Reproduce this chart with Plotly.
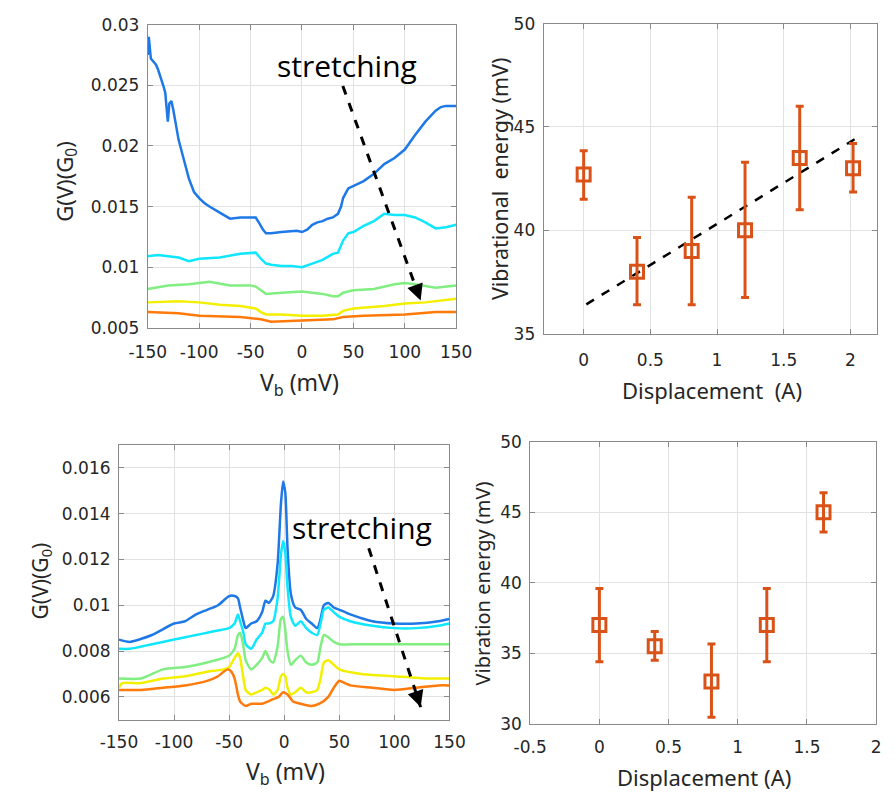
import plotly.graph_objects as go

W, H = 895, 799

# ---------------- data ----------------
# Top-left: G(V) curves, various stretching stages
tl_blue_x = [-150,-149,-147,-145,-142,-140,-137,-135,-133,-131.5,-130.5,-129,-127,-125,-120,-115,-110,-105,-100,-95,-90,-80,-70,-60,-50,-45,-42,-38,-35,-30,-20,-10,-5,0,5,10,15,20,25,30,35,38,40,45,50,60,70,80,90,100,110,120,130,135,140,145,150]
tl_blue_y = [0.0275,0.029,0.0272,0.027,0.0267,0.0263,0.0256,0.025,0.0244,0.0225,0.022,0.0235,0.0237,0.0229,0.0205,0.0189,0.0173,0.0162,0.0157,0.0153,0.015,0.0145,0.014,0.0141,0.0141,0.0141,0.0137,0.0131,0.0128,0.0128,0.0129,0.013,0.013,0.0129,0.0131,0.0135,0.0137,0.0138,0.014,0.0141,0.0144,0.015,0.0157,0.0165,0.0167,0.0171,0.0177,0.0185,0.019,0.0197,0.0209,0.022,0.0229,0.0232,0.0233,0.0233,0.0233]
tl_cyan_x = [-150,-140,-120,-110,-100,-80,-60,-50,-45,-40,-35,-30,-20,-10,0,10,20,30,35,40,45,50,60,70,80,90,100,110,120,130,140,150]
tl_cyan_y = [0.0109,0.011,0.0108,0.0105,0.0107,0.0108,0.0111,0.0112,0.0112,0.0107,0.0103,0.0102,0.0101,0.0101,0.01,0.0103,0.0106,0.0111,0.0112,0.0122,0.0128,0.0129,0.0134,0.0138,0.0144,0.0143,0.0143,0.0141,0.0137,0.0132,0.0133,0.0135]
tl_green_x = [-150,-130,-110,-90,-70,-50,-45,-40,-35,-20,0,20,30,35,40,50,70,90,100,110,130,150]
tl_green_y = [0.0082,0.0085,0.0086,0.0088,0.0085,0.0085,0.0084,0.0081,0.0078,0.0079,0.008,0.0078,0.0076,0.0076,0.0079,0.0081,0.0082,0.0086,0.0087,0.0086,0.0083,0.0085]
tl_yellow_x = [-150,-120,-100,-80,-60,-45,-40,-35,-20,0,20,35,40,50,80,100,120,150]
tl_yellow_y = [0.0071,0.0072,0.0071,0.0069,0.0068,0.0066,0.0063,0.0061,0.0061,0.006,0.006,0.0061,0.0064,0.0066,0.0068,0.007,0.0071,0.0074]
tl_orange_x = [-150,-120,-100,-60,-40,-30,0,30,40,60,100,130,150]
tl_orange_y = [0.0063,0.0062,0.006,0.0059,0.0057,0.0055,0.0056,0.0057,0.0059,0.006,0.0061,0.0063,0.0063]

# Bottom-left: G(V) curves
bl_bc_x = [-150,-140,-120,-100,-90,-80,-70,-60,-50,-45,-42,-40,-37,-35,-30,-25,-20,-17,-14,-10,-6,-3,-1,1,3,6,10,15,20,25,30,33,36,40,45,50,60,80,100,120,140,150]
bl_blue_y = [0.0085,0.0084,0.0087,0.0092,0.0093,0.0096,0.0098,0.01,0.0104,0.0104,0.0103,0.0099,0.0093,0.009,0.0092,0.0093,0.0097,0.0102,0.0101,0.0104,0.0118,0.0144,0.0154,0.0149,0.0125,0.0105,0.0099,0.0098,0.0094,0.0092,0.009,0.0094,0.01,0.0101,0.0099,0.0098,0.0096,0.0093,0.0092,0.0092,0.0093,0.0094]
bl_cyan_y = [0.0081,0.0081,0.0083,0.0085,0.0086,0.0087,0.0088,0.0089,0.009,0.0092,0.0096,0.0093,0.0088,0.0083,0.0081,0.0085,0.0088,0.0092,0.0092,0.0093,0.0103,0.0122,0.0128,0.0123,0.0108,0.0095,0.0091,0.0093,0.009,0.0088,0.0087,0.0092,0.0098,0.0099,0.0097,0.0095,0.0093,0.0091,0.009,0.009,0.0091,0.0092]
bl_green_x = [-150,-130,-110,-90,-70,-55,-50,-45,-42,-40,-37,-35,-30,-25,-20,-17,-13,-10,-6,-3,-1,1,3,6,10,15,20,25,30,33,36,40,45,50,70,100,130,150]
bl_green_y = [0.0068,0.0068,0.0072,0.0073,0.0075,0.0077,0.0078,0.0081,0.0087,0.0088,0.0082,0.0076,0.0072,0.0074,0.0077,0.008,0.0076,0.0075,0.0082,0.0094,0.0095,0.0089,0.008,0.0074,0.0076,0.0078,0.0075,0.0074,0.0075,0.0082,0.0087,0.0086,0.0084,0.0083,0.0083,0.0083,0.0083,0.0083]
bl_yellow_x = [-150,-147,-130,-110,-90,-70,-55,-50,-45,-42,-40,-37,-35,-30,-25,-20,-17,-13,-10,-6,-3,-1,1,3,6,10,15,20,25,30,33,36,40,45,50,70,100,130,150]
bl_yellow_y = [0.0064,0.0066,0.0066,0.0068,0.0069,0.0071,0.0072,0.0073,0.0077,0.0079,0.0077,0.0068,0.0063,0.0061,0.0062,0.0063,0.0064,0.0063,0.0061,0.0063,0.0069,0.007,0.0069,0.0064,0.0061,0.0062,0.0064,0.0062,0.0062,0.0063,0.0068,0.0075,0.0076,0.0074,0.0072,0.007,0.0069,0.0068,0.0068]
bl_orange_x = [-150,-130,-110,-90,-70,-60,-55,-51,-48,-45,-42,-40,-35,-30,-20,-10,-5,-1,3,8,15,25,32,40,45,50,55,60,80,100,120,140,150]
bl_orange_y = [0.0063,0.0063,0.0064,0.0065,0.0067,0.0069,0.0071,0.0072,0.0071,0.0068,0.0061,0.0058,0.0056,0.0057,0.0057,0.0059,0.006,0.0062,0.0061,0.0058,0.0057,0.0056,0.0057,0.006,0.0064,0.0067,0.0066,0.0065,0.0064,0.0063,0.0064,0.0065,0.0065]

# Top-right: vibrational energy vs displacement
tr_x = [0, 0.4, 0.81, 1.21, 1.62, 2.02]
tr_y = [42.7, 38.0, 39.0, 40.0, 43.5, 43.0]
tr_err_plus = [1.15, 1.65, 2.6, 3.3, 2.5, 1.2]
tr_err_minus = [1.2, 1.6, 2.6, 3.25, 2.5, 1.15]
fit_x = [0.02, 2.04]
fit_y = [36.42, 44.44]

# Bottom-right: vibration energy vs displacement
br_x = [0, 0.4, 0.81, 1.21, 1.62]
br_y = [37.0, 35.5, 33.0, 37.0, 45.0]
br_err_plus = [2.6, 1.05, 2.65, 2.6, 1.4]
br_err_minus = [2.6, 1.0, 2.55, 2.6, 1.4]

vb_ticks = [-150, -100, -50, 0, 50, 100, 150]
vb_ticktext = ["-150", "-100", "-50", "0", "50", "100", "150"]
br_xticks = [-0.5, 0, 0.5, 1, 1.5, 2]
br_xticktext = ["-0.5", "0", "0.5", "1", "1.5", "2"]

colors = ["#1e78e6", "#0fe6ff", "#80ee80", "#f2f000", "#ff7a0a"]
MC = "#D95319"

fig = go.Figure()

tl_series = [(tl_blue_x, tl_blue_y), (tl_cyan_x, tl_cyan_y), (tl_green_x, tl_green_y),
             (tl_yellow_x, tl_yellow_y), (tl_orange_x, tl_orange_y)]
for (xs, ys), c in zip(tl_series, colors):
    fig.add_trace(go.Scatter(x=xs, y=ys, mode="lines", line=dict(color=c, width=2.5),
                             xaxis="x", yaxis="y", showlegend=False))

bl_series = [(bl_bc_x, bl_blue_y), (bl_bc_x, bl_cyan_y), (bl_green_x, bl_green_y),
             (bl_yellow_x, bl_yellow_y), (bl_orange_x, bl_orange_y)]
for (xs, ys), c in zip(bl_series, colors):
    fig.add_trace(go.Scatter(x=xs, y=ys, mode="lines",
                             line=dict(color=c, width=2.5, shape="spline", smoothing=0.6),
                             xaxis="x3", yaxis="y3", showlegend=False))

fig.add_trace(go.Scatter(x=fit_x, y=fit_y, mode="lines",
                         line=dict(color="black", width=2.5, dash="dash"),
                         xaxis="x2", yaxis="y2", showlegend=False))
fig.add_trace(go.Scatter(x=tr_x, y=tr_y, mode="markers",
                         marker=dict(symbol="square-open", size=13, color=MC, line=dict(width=3, color=MC)),
                         error_y=dict(type="data", symmetric=False, array=tr_err_plus, arrayminus=tr_err_minus,
                                      color=MC, thickness=3, width=4),
                         xaxis="x2", yaxis="y2", showlegend=False))
fig.add_trace(go.Scatter(x=br_x, y=br_y, mode="markers",
                         marker=dict(symbol="square-open", size=13, color=MC, line=dict(width=3, color=MC)),
                         error_y=dict(type="data", symmetric=False, array=br_err_plus, arrayminus=br_err_minus,
                                      color=MC, thickness=3, width=4),
                         xaxis="x4", yaxis="y4", showlegend=False))

def px(x):
    return x / W

def py(y):
    return 1 - y / H

tickfont = dict(family="DejaVu Sans", size=17, color="#262626")
common = dict(showline=True, mirror="ticks", linecolor="#8a8a8a", linewidth=1,
              ticks="inside", ticklen=5, tickcolor="#8a8a8a",
              showgrid=True, gridcolor="#e2e2e2", gridwidth=1, zeroline=False,
              tickfont=tickfont)

fig.update_layout(
    width=W, height=H, margin=dict(l=0, r=0, t=0, b=0),
    paper_bgcolor="white", plot_bgcolor="white", showlegend=False,
    xaxis=dict(domain=[px(134), px(455)], anchor="y", range=[-150, 150],
               tickvals=vb_ticks, ticktext=vb_ticktext, ticklabelstandoff=9, **common),
    yaxis=dict(domain=[py(326), py(15)], anchor="x", range=[0.005, 0.03], dtick=0.005,
               tick0=0.005, ticklabelstandoff=4, **common),
    xaxis2=dict(domain=[px(546), px(893)], anchor="y2", range=[-0.3, 2.2],
                tickvals=[0, 0.5, 1, 1.5, 2], ticklabelstandoff=11, **common),
    yaxis2=dict(domain=[py(332), py(14)], anchor="x2", range=[35, 50], dtick=5,
                ticklabelstandoff=4, **common),
    xaxis3=dict(domain=[px(104), px(448)], anchor="y3", range=[-150, 150],
                tickvals=vb_ticks, ticktext=vb_ticktext, ticklabelstandoff=7, **common),
    yaxis3=dict(domain=[py(728), py(446)], anchor="x3", range=[0.005, 0.017],
                tickvals=[0.006, 0.008, 0.01, 0.012, 0.014, 0.016], ticklabelstandoff=4, **common),
    xaxis4=dict(domain=[px(532), px(892)], anchor="y4", range=[-0.5, 2],
                tickvals=br_xticks, ticktext=br_xticktext, ticklabelstandoff=8, **common),
    yaxis4=dict(domain=[py(732), py(443)], anchor="x4", range=[30, 50], dtick=5,
                ticklabelstandoff=4, **common),
)

ann = []
def add_text(text, x, y, angle=0, size=20, family="Noto Sans", color="#262626"):
    ann.append(dict(text=text, x=px(x), y=py(y), xref="paper", yref="paper",
                    showarrow=False, textangle=angle, xanchor="center", yanchor="middle",
                    font=dict(family=family, size=size, color=color)))

add_text("G(V)(G<sub>0</sub>)", 48, 176, angle=-90, size=22)
add_text("V<sub>b</sub> (mV)", 292, 383, size=23)
add_text("Vibrational  energy (mV)", 500, 173, angle=-90, size=21.5)
add_text("Displacement  (A)", 721, 390, size=22)
add_text("G(V)(G<sub>0</sub>)", 23, 586, angle=-90, size=21)
add_text("V<sub>b</sub> (mV)", 277, 782, size=23)
add_text("Vibration energy (mV)", 482, 588, angle=-90, size=20)
add_text("Displacement (A)", 713, 787, size=22)
add_text("stretching", 341, 57, size=30, family="Open Sans", color="black")
add_text("stretching", 357, 531, size=30, family="Open Sans", color="black")

shapes = []
for (x0, y0, x1, y1) in [(337, 78, 418, 298), (364, 552, 418, 715)]:
    shapes.append(dict(type="line", xref="paper", yref="paper",
                       x0=px(x0), y0=py(y0), x1=px(x1), y1=py(y1),
                       line=dict(color="black", width=3, dash="dash")))
    dx, dy = x1 - x0, y1 - y0
    L = (dx ** 2 + dy ** 2) ** 0.5
    ann.append(dict(x=px(x1), y=py(y1), xref="paper", yref="paper", text="",
                    showarrow=True, arrowhead=2, arrowsize=1.3, arrowwidth=2.5,
                    arrowcolor="black", ax=-dx / L * 12, ay=-dy / L * 12))

fig.update_layout(annotations=ann, shapes=shapes)
fig.write_html("out.html")
